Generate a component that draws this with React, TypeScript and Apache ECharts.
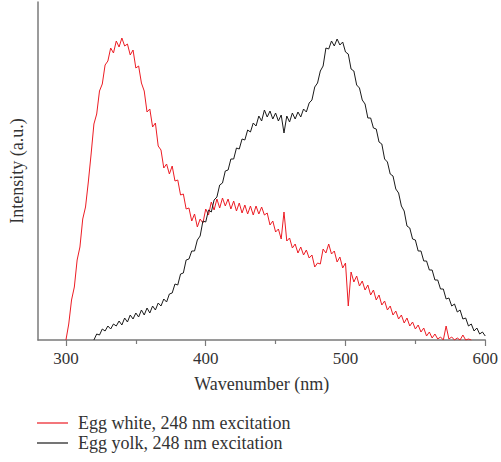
import React, { useEffect, useRef } from "react";
import * as echarts from "echarts";

// Egg white (red), sampled every 2 nm from 300 nm
const eggWhiteStartNm = 300;
const eggWhiteIntensity = [
  0, 16, 40, 53, 80, 93, 121, 133, 158, 186,
  216, 226, 249, 256, 275, 279, 292, 287, 299, 293,
  302, 294, 296, 285, 290, 272, 274, 257, 249, 228,
  231, 213, 217, 194, 190, 172, 176, 166, 174, 159,
  160, 145, 146, 131, 132, 119, 126, 113, 121, 117,
  131, 125, 138, 130, 141, 132, 142, 134, 141, 131,
  139, 129, 137, 127, 135, 126, 134, 125, 134, 126,
  133, 125, 127, 115, 119, 108, 111, 101, 128, 99,
  102, 92, 96, 87, 93, 85, 90, 82, 85, 73,
  77, 76, 91, 87, 96, 86, 89, 78, 83, 72,
  77, 34, 68, 58, 64, 54, 59, 50, 55, 45,
  50, 40, 45, 35, 39, 30, 34, 25, 29, 21,
  25, 17, 22, 14, 18, 11, 15, 8, 12, 4,
  8, 2, 6, 1, 3, 0, 14, 1, 3, 0,
  2, 0, 5, 0, 1, 0,
];

// Egg yolk (black), sampled every 2 nm from 320 nm
const eggYolkStartNm = 320;
const eggYolkIntensity = [
  0, 6, 5, 11, 9, 14, 11, 16, 14, 19,
  15, 22, 18, 25, 21, 27, 23, 30, 25, 32,
  27, 34, 30, 37, 34, 41, 38, 46, 47, 56,
  55, 66, 67, 80, 81, 89, 89, 100, 104, 119,
  118, 130, 128, 140, 143, 155, 157, 169, 170, 181,
  181, 192, 191, 201, 200, 210, 208, 217, 214, 224,
  219, 230, 223, 229, 221, 227, 219, 225, 207, 224,
  218, 227, 221, 228, 223, 231, 228, 237, 240, 253,
  257, 269, 274, 292, 291, 299, 294, 301, 295, 298,
  288, 286, 271, 269, 255, 252, 240, 236, 222, 222,
  212, 211, 198, 196, 181, 178, 166, 164, 151, 147,
  134, 129, 114, 112, 101, 100, 89, 89, 79, 79,
  70, 70, 60, 60, 51, 51, 41, 42, 34, 36,
  28, 30, 21, 22, 14, 16, 9, 12, 6, 8,
  4,
];
const sampleStepNm = 2;

const majorTicks = [300, 400, 500, 600];
const minorTicks = [350, 450, 550];
const xMin = 280;
const xMax = 600;
const yMax = 338;

const seriesNames = ["Egg white, 248 nm excitation", "Egg yolk, 248 nm excitation"];

const FONT = "'Liberation Serif', 'DejaVu Serif', serif";
const TEXT = "#333333";
const AXIS = "#7a7a7a";

function toPairs(start: number, vals: number[]) {
  return vals.map((v, i) => [start + i * sampleStepNm, v]);
}

function legendFor(name: string, top: number) {
  return {
    data: [name],
    orient: "horizontal",
    left: 37,
    top,
    padding: 0,
    icon: "rect",
    itemWidth: 31,
    itemHeight: 1.2,
    textStyle: {
      fontFamily: FONT,
      fontSize: 18,
      color: TEXT,
      padding: [0, 0, 0, 5],
    },
  };
}

export default function App() {
  const ref = useRef<HTMLDivElement>(null);
  useEffect(() => {
    if (!ref.current) return;
    const chart = echarts.init(ref.current, undefined, { renderer: "svg" });
    chart.setOption({
      animation: false,
      backgroundColor: "#ffffff",
      grid: { left: 38, right: 11, top: 2, bottom: 122, containLabel: false },
      legend: [legendFor(seriesNames[0], 414), legendFor(seriesNames[1], 434)],
      xAxis: [
        {
          type: "value",
          min: xMin,
          max: xMax,
          name: "Wavenumber (nm)",
          nameLocation: "middle",
          nameGap: 35,
          nameTextStyle: { fontFamily: FONT, fontSize: 18, color: TEXT },
          axisLine: { show: true, lineStyle: { color: AXIS, width: 1.5 } },
          axisTick: { show: true, customValues: majorTicks, length: 6, lineStyle: { color: AXIS, width: 1.2 } },
          axisLabel: { customValues: majorTicks, fontFamily: FONT, fontSize: 17, color: TEXT, margin: 10 },
          splitLine: { show: false },
        },
        {
          type: "value",
          min: xMin,
          max: xMax,
          position: "bottom",
          axisLine: { show: false },
          axisTick: { show: true, customValues: minorTicks, length: 4, lineStyle: { color: AXIS, width: 1.2 } },
          axisLabel: { show: false },
          splitLine: { show: false },
        },
      ],
      yAxis: {
        type: "value",
        min: 0,
        max: yMax,
        name: "Intensity (a.u.)",
        nameLocation: "middle",
        nameGap: 12,
        nameRotate: 90,
        nameTextStyle: { fontFamily: FONT, fontSize: 18, color: TEXT },
        axisLine: { show: true, lineStyle: { color: AXIS, width: 1.5 } },
        axisTick: { show: false },
        axisLabel: { show: false },
        splitLine: { show: false },
      },
      series: [
        {
          name: seriesNames[0],
          type: "line",
          data: toPairs(eggWhiteStartNm, eggWhiteIntensity),
          showSymbol: false,
          itemStyle: { color: "#ec1c24" },
          lineStyle: { color: "#ec1c24", width: 1 },
        },
        {
          name: seriesNames[1],
          type: "line",
          data: toPairs(eggYolkStartNm, eggYolkIntensity),
          showSymbol: false,
          itemStyle: { color: "#1a1a1a" },
          lineStyle: { color: "#1a1a1a", width: 1 },
        },
      ],
    });
    return () => chart.dispose();
  }, []);
  return (
    <div
      ref={ref}
      style={{ position: "fixed", left: 0, top: 0, width: 501, height: 462, background: "#fff" }}
    />
  );
}
